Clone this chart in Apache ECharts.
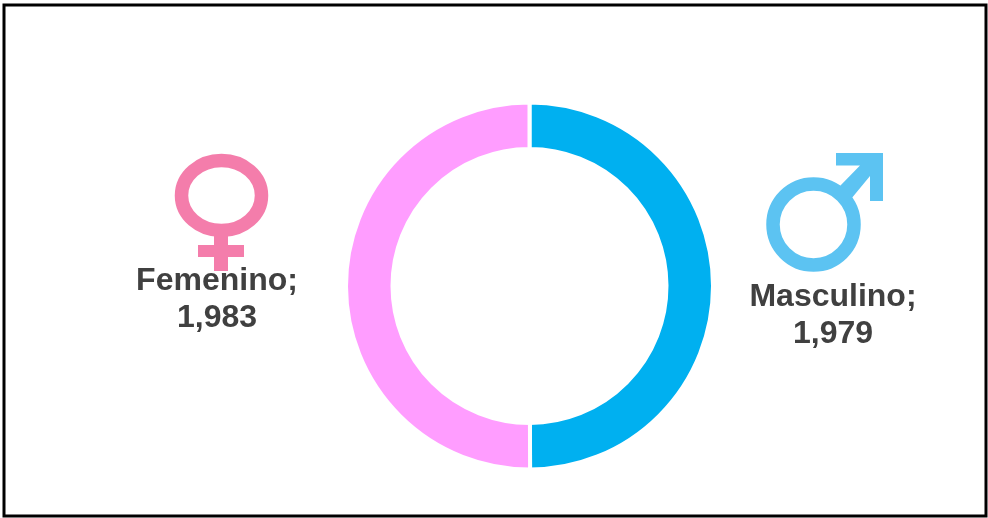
<!DOCTYPE html>
<html>
<head>
<meta charset="utf-8">
<style>html,body{margin:0;padding:0;background:#fff}#c{width:988px;height:518px}</style>
<script src="https://cdn.jsdelivr.net/npm/echarts@6/dist/echarts.min.js"></script>
</head>
<body>
<div id="c"></div>
<script>
// Gender split shown as a doughnut
const categories = ['Masculino', 'Femenino'];
const values = [1979, 1983];
const colors = ['#00B0F0', '#FF9DFF'];
const labelCentres = [[833, 316], [217, 300]];

const chart = echarts.init(document.getElementById('c'), null, { renderer: 'canvas' });

const pink = '#F47DAB';
const sky = '#5CC3F2';

chart.setOption({
  animation: false,
  backgroundColor: '#ffffff',
  series: [{
    type: 'pie',
    center: [529.5, 286],
    radius: [137, 183.5],
    startAngle: 90,
    clockwise: true,
    silent: true,
    z: 2,
    data: categories.map((name, i) => ({
      name,
      value: values[i],
      itemStyle: { color: colors[i], borderColor: '#fff', borderWidth: 4 }
    })),
    label: {
      show: true,
      position: 'outside',
      formatter: p => p.name + ';\n' + p.value.toLocaleString('en-US'),
      fontFamily: '"Liberation Sans", Arial, sans-serif',
      fontWeight: 'bold',
      fontSize: 32,
      lineHeight: 37,
      color: '#404040',
      align: 'center',
      verticalAlign: 'middle'
    },
    labelLine: { show: false },
    labelLayout: params => {
      const i = categories.indexOf(chart.getModel().getSeriesByIndex(0).getData().getName(params.dataIndex));
      return { x: labelCentres[i][0], y: labelCentres[i][1], align: 'center', verticalAlign: 'middle', hideOverlap: false };
    }
  }],
  graphic: [
    // Outer frame
    { type: 'rect', z: 50, shape: { x: 4, y: 5, width: 982, height: 511 },
      style: { fill: 'none', stroke: '#000', lineWidth: 3 } },
    // Venus symbol
    { type: 'ellipse', z: 100, shape: { cx: 221.5, cy: 195.5, rx: 40, ry: 35 },
      style: { fill: 'none', stroke: pink, lineWidth: 13.5 } },
    { type: 'rect', z: 100, shape: { x: 214, y: 235, width: 14, height: 36 }, style: { fill: pink } },
    { type: 'rect', z: 100, shape: { x: 198, y: 245, width: 46, height: 12 }, style: { fill: pink } },
    // Mars symbol
    { type: 'circle', z: 100, shape: { cx: 813.5, cy: 224.5, r: 40.5 },
      style: { fill: 'none', stroke: sky, lineWidth: 13.5 } },
    { type: 'polygon', z: 100,
      shape: { points: [[836, 153], [883, 153], [883, 201], [870, 201], [870, 176], [851, 199], [840, 186], [860, 165.5], [836, 165.5]] },
      style: { fill: sky } }
  ]
});
</script>
</body>
</html>
